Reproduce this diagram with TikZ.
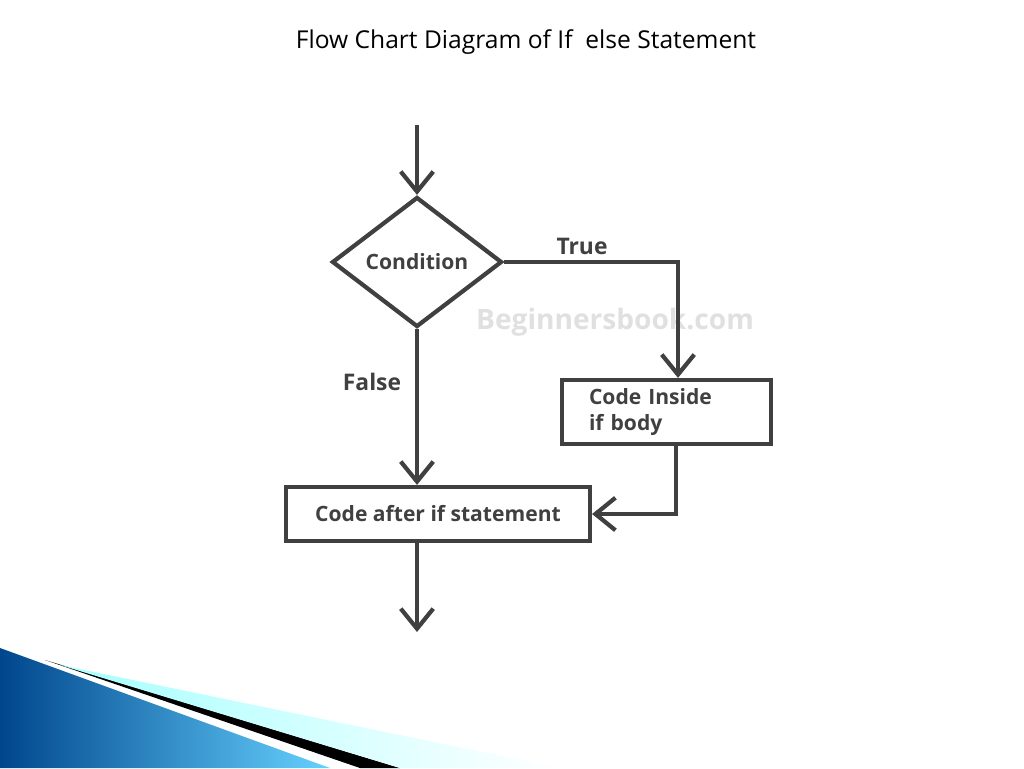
\documentclass[tikz,border=0pt]{standalone}
\usepackage{fontspec}
\setmainfont{Open Sans}
\usetikzlibrary{positioning, arrows.meta, shapes.geometric}

\tikzset{
  flowline/.style={line width=2.4pt, draw=black!75, -{Straight Barb[length=4mm,width=6.5mm,line width=2.4pt]}},
  codebox/.style={draw=black!75, line width=2.4pt, rectangle, inner sep=0pt, font=\fontsize{12pt}{15pt}\selectfont\bfseries, text=black!75},
  decision/.style={draw=black!75, line width=2.4pt, diamond, inner sep=0pt, minimum width=3.4cm, minimum height=2.6cm, font=\fontsize{12pt}{15pt}\selectfont\bfseries, text=black!75},
  edgelabel/.style={font=\fontsize{13pt}{15pt}\selectfont\bfseries, text=black!75}
}

\begin{document}
\begin{tikzpicture}[x=0.02cm, y=-0.02cm]
\useasboundingbox (0,0) rectangle (1024,768);
% --- corner decoration ---
\shade[left color=cyan!50!blue!55!black, right color=cyan!70!blue!60!white] (0,648) -- (330,768) -- (0,768) -- cycle;
\fill[black] (45,660) -- (400,768) -- (360,768) -- cycle;
\shade[left color=cyan!35!white, right color=white] (60,665) -- (560,768) -- (400,768) -- cycle;
% --- title ---
\node[font=\fontsize{14pt}{16pt}\selectfont] (title) at (526,42) {Flow Chart Diagram of If\ \ else Statement};
% --- watermark ---
\node[font=\fontsize{16pt}{18pt}\selectfont\bfseries, text=black!12] (mark) at (615,322) {Beginnersbook.com};
% --- flow nodes ---
\coordinate (start) at (417,125);
\node[decision] (cond) at (417,262) {Condition};
\node[codebox, minimum width=4.18cm, minimum height=1.28cm, align=left, text width=3.7cm] (body) at (666.5,412) {\hspace*{0.3cm}Code Inside\\\hspace*{0.3cm}if body};
\node[codebox, minimum width=6.08cm, minimum height=1.08cm] (after) at (438,514) {Code after if statement};
\coordinate (corner) at (678,262);
\coordinate (drop) at (676,444);
\coordinate (joint) at (drop |- after.east);
\coordinate (finish) at (417,632);
% --- connectors ---
\draw[flowline] (start) -- (cond.north);
\draw[flowline] (cond.east) -- (corner) -- (body.north -| corner);
\draw[flowline] (cond.south) -- (after.north -| cond.south);
\draw[flowline] (drop) -- (joint) -- (after.east);
\draw[flowline] (after.south -| finish) -- (finish);
% --- labels ---
\node[edgelabel] (truelbl) at (582,246) {True};
\node[edgelabel] (falselbl) at (372,382) {False};
\end{tikzpicture}
\end{document}
